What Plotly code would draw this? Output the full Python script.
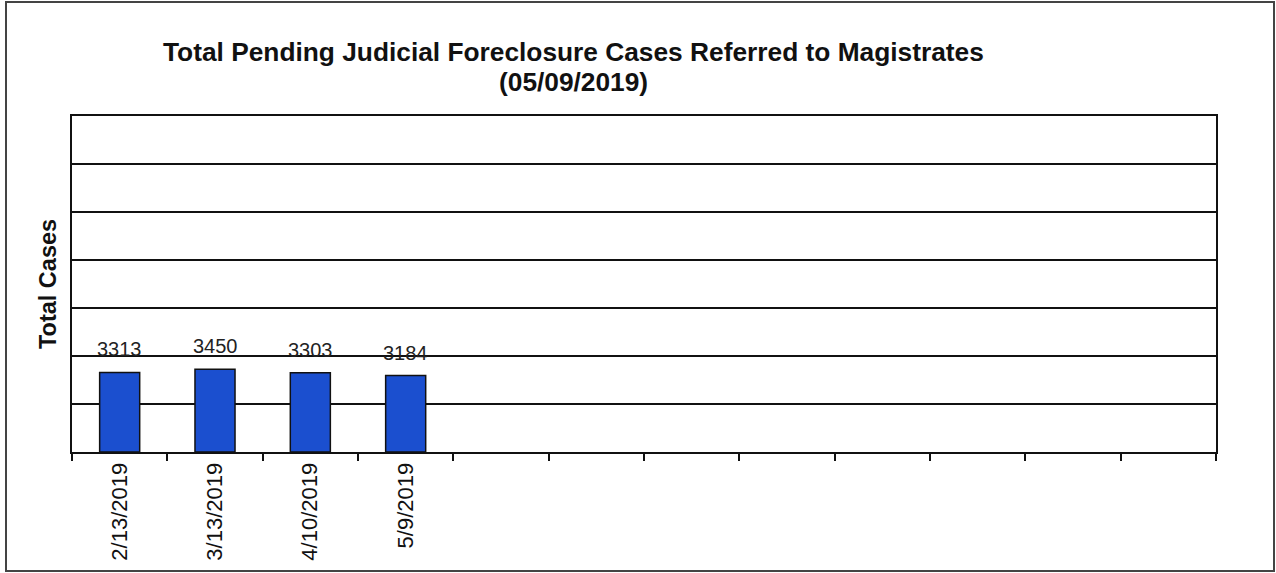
import plotly.graph_objects as go

dates = ["2/13/2019", "3/13/2019", "4/10/2019", "5/9/2019"]
cases = [3313, 3450, 3303, 3184]
n_slots = 12
y_max = 14000
y_step = 2000
title_lines = ["Total Pending Judicial Foreclosure Cases Referred to Magistrates", "(05/09/2019)"]

x_pos = [i + 0.5 for i in range(len(dates))]

fig = go.Figure()
fig.add_trace(go.Bar(
    x=x_pos, y=cases, width=0.42,
    marker=dict(color="#1b4fcf", line=dict(color="#111111", width=1.5)),
    hoverinfo="skip",
))

for xv, v in zip(x_pos, cases):
    fig.add_annotation(x=xv, y=v, text=str(v), showarrow=False,
                       yanchor="bottom", yshift=10,
                       font=dict(family="Liberation Sans, Arial", size=20, color="#222222"))

for line, py in zip(title_lines, [52, 82]):
    fig.add_annotation(xref="paper", yref="paper", x=(573 - 72) / 1144, y=1 + (116 - py) / 336,
                       xanchor="center", yanchor="middle", showarrow=False,
                       text="<b>" + line + "</b>",
                       font=dict(family="Liberation Sans, Arial", size=26.3, color="#111111"))

fig.update_layout(
    width=1276, height=573,
    margin=dict(l=72, r=60, t=116, b=121),
    paper_bgcolor="white", plot_bgcolor="white",
    showlegend=False,
    font=dict(family="Liberation Sans, Arial", color="#111111"),
)

fig.update_xaxes(
    range=[0, n_slots],
    tickvals=x_pos, ticktext=dates, tickangle=-90,
    ticks="", tickfont=dict(family="Liberation Sans, Arial", size=22, color="#111111"),
    showgrid=False, zeroline=False,
    showline=True, linecolor="#111111", linewidth=2, mirror=True,
    minor=dict(tickvals=list(range(n_slots + 1)), ticks="outside", ticklen=7,
               tickcolor="#111111", tickwidth=2, showgrid=False),
)
fig.update_yaxes(
    range=[0, y_max], dtick=y_step, showticklabels=False, ticks="",
    showgrid=True, gridcolor="#111111", gridwidth=2, zeroline=False,
    showline=True, linecolor="#111111", linewidth=2, mirror=True,
    title=dict(text="<b>Total Cases</b>", standoff=7,
               font=dict(family="Liberation Sans, Arial", size=23.5, color="#111111")),
)

fig.add_shape(type="rect", xref="paper", yref="paper",
              x0=-66/1144, x1=1 + 58/1144, y0=-119/336, y1=1 + 114/336,
              line=dict(color="#444444", width=2))

fig.write_html("out.html", config={"displayModeBar": False},
               post_script="document.body.style.margin='0';")
